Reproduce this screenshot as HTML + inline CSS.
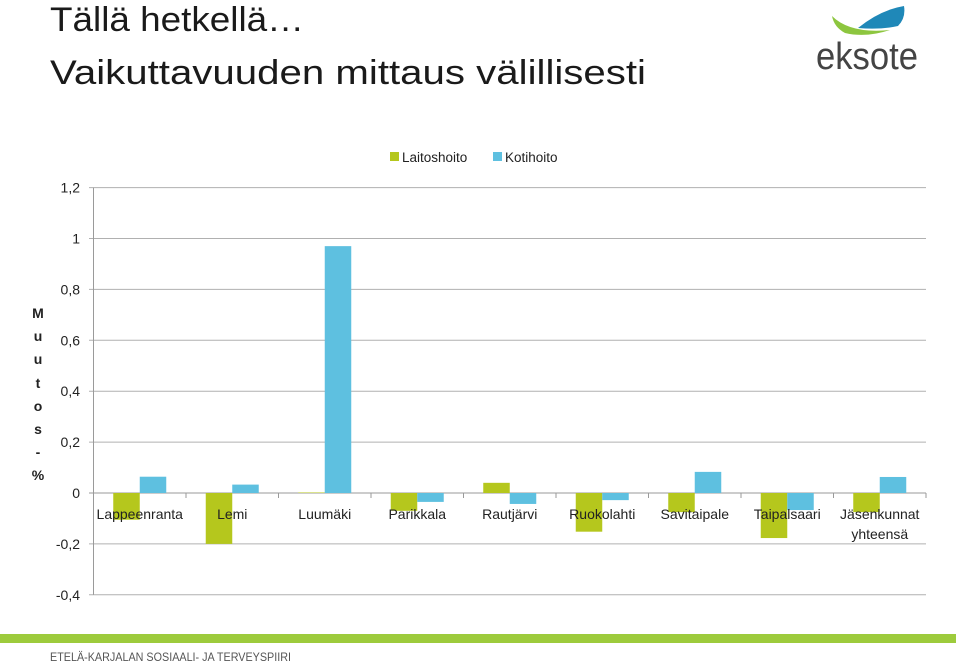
<!DOCTYPE html>
<html><head><meta charset="utf-8"><style>
html,body{margin:0;padding:0;background:#fff;}
svg{display:block;font-family:"Liberation Sans",sans-serif;}
</style></head><body>
<svg width="960" height="662" viewBox="0 0 960 662">
<text x="50" y="31" font-size="34" fill="#1a1a1a" textLength="254" lengthAdjust="spacingAndGlyphs">Tällä hetkellä…</text>
<text x="50" y="84" font-size="34" fill="#1a1a1a" textLength="596" lengthAdjust="spacingAndGlyphs">Vaikuttavuuden mittaus välillisesti</text>
<g>
<path d="M832 16 Q850 34 890 30 Q866 38 845 33 Q834 27 832 16Z" fill="#8dc63f"/>
<path d="M858 28 Q880 10 904 6 Q906 18 898 26 Q880 30 858 28Z" fill="#1f88b8"/>
<text x="816" y="69" font-size="38" fill="#444" textLength="102" lengthAdjust="spacingAndGlyphs">eksote</text>
</g>
<g id="legend">
<rect x="390" y="152" width="9" height="9" fill="#b5c71d"/>
<text x="402" y="162" font-size="13.5" fill="#222">Laitoshoito</text>
<rect x="493" y="152" width="9" height="9" fill="#5ec0e0"/>
<text x="505" y="162" font-size="13.5" fill="#222">Kotihoito</text>
</g>
<g font-size="14" font-weight="bold" fill="#222" text-anchor="middle">
<text x="38" y="318">M</text><text x="38" y="341">u</text><text x="38" y="364">u</text><text x="38" y="388">t</text><text x="38" y="411">o</text><text x="38" y="434">s</text><text x="38" y="457">-</text><text x="38" y="480">%</text>
</g>
<g id="grid"></g>
<g id="bars"></g>
<g id="axes"></g>
<g id="labels"></g>
<rect x="0" y="634" width="956" height="9" fill="#9dcb3c"/>
<text x="50" y="661" font-size="12" fill="#555" textLength="241" lengthAdjust="spacingAndGlyphs">ETELÄ-KARJALAN SOSIAALI- JA TERVEYSPIIRI</text>
</svg>
<script>
const categories = ["Lappeenranta","Lemi","Luumäki","Parikkala","Rautjärvi","Ruokolahti","Savitaipale","Taipalsaari","Jäsenkunnat|yhteensä"];
const laitoshoito = [-0.105,-0.2,0.002,-0.07,0.04,-0.152,-0.075,-0.177,-0.075];
const kotihoito = [0.064,0.033,0.97,-0.035,-0.043,-0.028,0.083,-0.067,0.063];
const yTicks = [1.2,1,0.8,0.6,0.4,0.2,0,-0.2,-0.4];
const yTickLabels = ["1,2","1","0,8","0,6","0,4","0,2","0","-0,2","-0,4"];

const NS="http://www.w3.org/2000/svg";
const x0=93.5, catW=92.5, y0=493, unit=254.5, barW=26.5;
const yScale=v=>y0-v*unit;
const xCat=i=>x0+i*catW;
function mk(tag,attrs,parent){const e=document.createElementNS(NS,tag);for(const k in attrs)e.setAttribute(k,attrs[k]);document.getElementById(parent).appendChild(e);return e;}

yTicks.forEach((t,i)=>{
  const y=yScale(t);
  const g=mk('line',{x1:89,x2:926,y1:y,y2:y,stroke:t===0?'#9a9a9a':'#b0b0b0','stroke-width':1},'grid');
  
  
  const l=mk('text',{x:80,y:y+5,'font-size':14,fill:'#222','text-anchor':'end'},'labels');
  l.textContent=yTickLabels[i];
  
  
});
const ax=mk('line',{x1:x0,x2:x0,y1:yScale(1.2),y2:yScale(-0.4),stroke:'#9a9a9a','stroke-width':1},'axes');


for(let i=1;i<=categories.length;i++){
  const t=mk('line',{x1:xCat(i),x2:xCat(i),y1:y0,y2:y0+5,stroke:'#9a9a9a'},'axes');
  
  
}
categories.forEach((c,i)=>{
  const cx=xCat(i)+catW/2;
  [[laitoshoito[i],'#b5c71d',-barW,'bar-laitoshoito'],[kotihoito[i],'#5ec0e0',0,'bar-kotihoito']].forEach(([v,col,off,nm])=>{
    const ya=yScale(Math.max(v,0)), yb=yScale(Math.min(v,0));
    const r=mk('rect',{x:cx+off,y:ya,width:barW,height:Math.max(yb-ya,0.5),fill:col},'bars');
    
    
  });
  c.split('|').forEach((p,j)=>{
    const t=mk('text',{x:cx,y:519+j*20,'font-size':14,fill:'#222','text-anchor':'middle'},'labels');
    t.textContent=p;
    
    
  });
});
</script>
</body></html>
